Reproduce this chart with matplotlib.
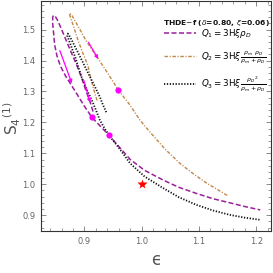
import matplotlib
matplotlib.use("Agg")
import matplotlib.pyplot as plt
from matplotlib.ticker import MultipleLocator, FormatStrFormatter

# ---- data ----
q1_eps = [0.915, 0.910, 0.903, 0.895, 0.885, 0.876, 0.867, 0.859, 0.853, 0.849,
          0.846,
          0.8445, 0.8445, 0.846, 0.848, 0.852, 0.858, 0.867, 0.878, 0.889, 0.900, 0.908, 0.913,
          0.925, 0.943, 0.960, 0.980, 1.005, 1.038, 1.065, 1.096, 1.125, 1.154, 1.180, 1.207]
q1_s = [1.235, 1.265, 1.300, 1.345, 1.392, 1.430, 1.470, 1.505, 1.530, 1.543,
        1.546,
        1.540, 1.520, 1.490, 1.450, 1.415, 1.382, 1.350, 1.318, 1.285, 1.252, 1.230, 1.216,
        1.193, 1.158, 1.122, 1.080, 1.045, 1.013, 0.990, 0.970, 0.953, 0.940, 0.928, 0.917]

q2_eps = [0.922, 0.918, 0.912, 0.906, 0.897, 0.889, 0.881, 0.876, 0.874,
          0.874,
          0.878, 0.886, 0.894, 0.901, 0.912, 0.924, 0.941, 0.959, 0.980, 0.997,
          1.012, 1.040, 1.067, 1.090, 1.114, 1.135, 1.151]
q2_s = [1.271, 1.295, 1.335, 1.384, 1.425, 1.464, 1.510, 1.537, 1.549,
        1.553,
        1.546, 1.520, 1.494, 1.470, 1.438, 1.406, 1.358, 1.305, 1.255, 1.207,
        1.174, 1.115, 1.067, 1.034, 1.003, 0.980, 0.962]

q3_eps = [0.938, 0.932, 0.927, 0.917, 0.907, 0.897, 0.887, 0.878, 0.873,
          0.871,
          0.870, 0.876, 0.884, 0.895, 0.904, 0.913, 0.920, 0.927, 0.936, 0.945,
          0.960, 0.980, 1.005, 1.038, 1.065, 1.096, 1.125, 1.154, 1.180, 1.207]
q3_s = [1.233, 1.258, 1.282, 1.320, 1.357, 1.395, 1.432, 1.465, 1.482,
        1.487,
        1.480, 1.450, 1.410, 1.346, 1.306, 1.271, 1.240, 1.207, 1.178, 1.153,
        1.118, 1.067, 1.025, 0.987, 0.958, 0.933, 0.915, 0.901, 0.892, 0.885]

# present-day points (magenta dots) and LCDM point (red star)
dot_eps = [0.913, 0.943, 0.959]
dot_s = [1.216, 1.158, 1.305]
star_eps = [1.0]
star_s = [1.0]

# direction arrows (start -> end)
arrow_start = [(0.857, 1.432), (0.899, 1.335), (0.907, 1.459)]
arrow_end = [(0.878, 1.326), (0.910, 1.264), (0.924, 1.405)]

labels = [r"$Q_1\mathregular{=3H}\xi\rho_D$",
          r"$Q_2\mathregular{=3H}\xi\,\frac{\rho_m\ \rho_D}{\rho_m+\rho_D}$",
          r"$Q_3\mathregular{=3H}\xi\,\frac{{\rho_D}^2}{\rho_m+\rho_D}$"]
legend_title = r"THDE$-$f ($\delta$=0.80, $\xi$=0.06)"

c_purple = "#9a1f9a"
c_brown = "#c08848"
c_black = "#111111"

fig = plt.figure(figsize=(2.73, 2.73), dpi=100)
ax = fig.add_axes([0.150, 0.154, 0.843, 0.843])

l1, = ax.plot(q1_eps, q1_s, color=c_purple, lw=1.1, dashes=(3.3, 1.6))
l2, = ax.plot(q2_eps, q2_s, color=c_brown, lw=1.0, dashes=(2.5, 1.2, 0.8, 1.2))
l3, = ax.plot(q3_eps, q3_s, color=c_black, lw=1.3, dashes=(0.7, 0.9))

for s, e in zip(arrow_start, arrow_end):
    ax.annotate("", xy=e, xytext=s,
                arrowprops=dict(arrowstyle="-|>", color="#ff00ff", lw=0.9,
                                mutation_scale=5, shrinkA=0, shrinkB=0))

ax.plot(dot_eps, dot_s, 'o', color="#ff00ff", ms=4.5, mec="none")
ax.plot(star_eps, star_s, '*', color="#ff0000", ms=7, mec="none")

ax.set_xlim(0.824, 1.226)
ax.set_ylim(0.849, 1.593)

ax.xaxis.set_major_locator(MultipleLocator(0.1))
ax.xaxis.set_minor_locator(MultipleLocator(0.02))
ax.yaxis.set_major_locator(MultipleLocator(0.1))
ax.yaxis.set_minor_locator(MultipleLocator(0.02))
ax.tick_params(which="both", direction="in", top=True, right=True,
               color="#777777", labelcolor="#666666", labelsize=6, pad=4)
ax.tick_params(which="major", length=3.5, width=0.6)
ax.tick_params(which="minor", length=2, width=0.5)
ax.xaxis.set_major_formatter(FormatStrFormatter("%.1f"))
ax.yaxis.set_major_formatter(FormatStrFormatter("%.1f"))
for sp in ax.spines.values():
    sp.set_color("#333333")
    sp.set_linewidth(0.8)

ax.set_xlabel("\u03f5", fontsize=12, color="#555555", labelpad=4)
ax.set_ylabel(r"$\mathregular{S_4}^{\mathregular{(1)}}$", fontsize=11,
              color="#555555")
ax.yaxis.set_label_coords(-0.078, 0.49)

ax.text(0.532, 0.905, legend_title, transform=ax.transAxes,
        fontsize=5.4, fontweight="bold", ha="left", va="center", color="#111111")

leg = ax.legend([l1, l2, l3], labels,
                loc="upper left", bbox_to_anchor=(0.535, 0.885),
                frameon=False, fontsize=6.3, handlelength=3.6,
                handletextpad=0.6, labelspacing=1.0, borderaxespad=0,
                borderpad=0)

fig.savefig("out.png", dpi=100)
